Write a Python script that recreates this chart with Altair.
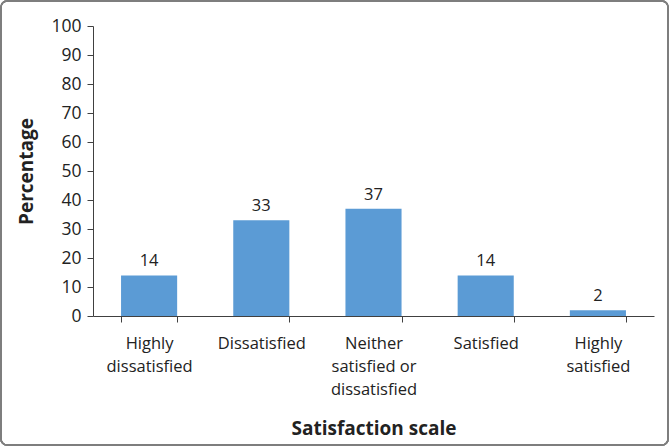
import json
import altair as alt
import pandas as pd

# Survey responses on the satisfaction scale (percent of respondents)
categories = ["Highly dissatisfied", "Dissatisfied",
              "Neither satisfied or dissatisfied", "Satisfied", "Highly satisfied"]
values = [14, 33, 37, 14, 2]
y_ticks = [0, 10, 20, 30, 40, 50, 60, 70, 80, 90, 100]

# Multi-line tick labels for the category axis
label_lines = {
    "Highly dissatisfied": ["Highly", "dissatisfied"],
    "Dissatisfied": ["Dissatisfied"],
    "Neither satisfied or dissatisfied": ["Neither", "satisfied or", "dissatisfied"],
    "Satisfied": ["Satisfied"],
    "Highly satisfied": ["Highly", "satisfied"],
}

df = pd.DataFrame({"category": categories, "value": values})

FONT = "Open Sans"
TEXT = "#222222"
AXIS = "#404040"

label_expr = json.dumps(label_lines) + "[datum.label]"

x_enc = alt.X(
    "category:N",
    sort=categories,
    scale=alt.Scale(paddingInner=0.5, paddingOuter=0.25),
    axis=alt.Axis(
        title="Satisfaction scale",
        labelExpr=label_expr,
        labelAngle=0,
        labelFontSize=16.5,
        labelLineHeight=23,
        labelPadding=13,
        labelColor=TEXT,
        labelFont=FONT,
        labelOverlap=False,
        tickBand="extent",
        tickSize=6,
        tickColor=AXIS,
        domainColor=AXIS,
        titleFontSize=19,
        titleFont=FONT,
        titleFontWeight="bold",
        titleColor=TEXT,
        titlePadding=22,
    ),
)

y_enc = alt.Y(
    "value:Q",
    scale=alt.Scale(domain=[0, 100]),
    axis=alt.Axis(
        title="Percentage",
        values=y_ticks,
        grid=False,
        labelFontSize=17.5,
        labelColor=TEXT,
        labelFont=FONT,
        labelPadding=6,
        labelOverlap=False,
        tickSize=6,
        tickColor=AXIS,
        domainColor=AXIS,
        titleFontSize=19,
        titleFont=FONT,
        titleFontWeight="bold",
        titleColor=TEXT,
        titlePadding=14,
    ),
)

base = alt.Chart(df).encode(x=x_enc, y=y_enc)

bars = base.mark_bar(color="#5B9BD5")

labels = base.mark_text(
    dy=-14, fontSize=16.5, font=FONT, color=TEXT
).encode(text="value:Q")

# Rounded frame around the whole figure
frame = alt.Chart(df).mark_rect(
    fill=None, stroke="#7f7f7f", strokeWidth=1.5, cornerRadius=6, clip=False
).encode(
    x=alt.value(-92), x2=alt.value(575),
    y=alt.value(-25), y2=alt.value(419),
)

chart = (
    alt.layer(bars, labels, frame)
    .properties(
        width=561,
        height=290,
        autosize=alt.AutoSizeParams(type="none"),
        padding={"left": 93, "top": 26, "right": 16, "bottom": 131},
        background="white",
    )
    .configure_view(stroke=None)
)

chart.save("out.html", embed_options={"renderer": "svg", "actions": False})
